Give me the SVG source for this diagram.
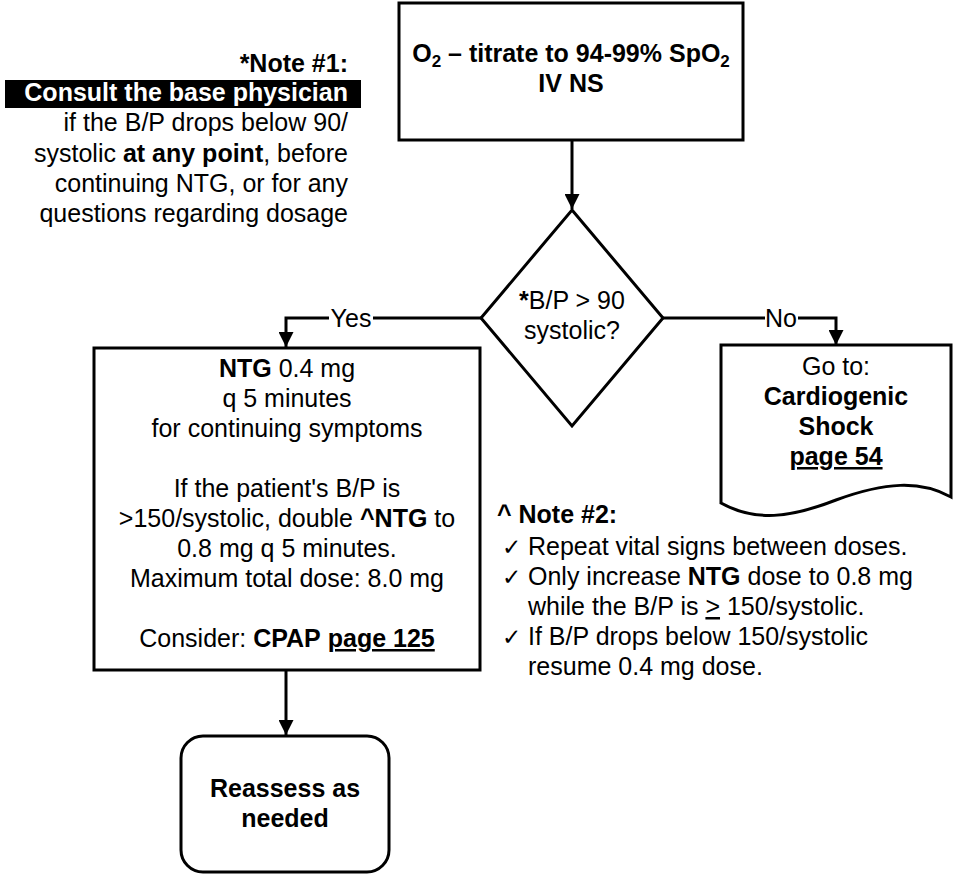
<svg xmlns="http://www.w3.org/2000/svg" width="955" height="875" viewBox="0 0 955 875">
  <style>
    text { font-family: "Liberation Sans", Arial, sans-serif; font-size: 25px; fill: #000; }
    .b { font-weight: bold; }
    .c { text-anchor: middle; }
    .r { text-anchor: end; }
    .u { text-decoration: underline; }
    .shape { fill: #fff; stroke: #000; stroke-width: 3; }
    .wire { fill: none; stroke: #000; stroke-width: 3; }
    .chk { font-family: "DejaVu Sans", sans-serif; font-size: 23px; }
    .sub { font-size: 17px; }
  </style>
  <defs>
    <marker id="arrow" viewBox="0 0 10 10" refX="10" refY="5" markerWidth="5" markerHeight="5" markerUnits="strokeWidth" orient="auto">
      <path d="M0,0 L10,5 L0,10 z" fill="#000"/>
    </marker>
  </defs>

  <rect width="955" height="875" fill="#fff"/>

  <!-- Note #1 -->
  <g id="note1">
    <text class="b r" x="348" y="72">*Note #1:</text>
    <rect x="5" y="80" width="356" height="28" fill="#000"/>
    <text class="b r" x="348" y="101" style="fill:#fff">Consult the base physician</text>
    <text class="r" x="348" y="131">if the B/P drops below 90/</text>
    <text class="r" x="348" y="162">systolic <tspan class="b">at any point</tspan>, before</text>
    <text class="r" x="348" y="192">continuing NTG, or for any</text>
    <text class="r" x="348" y="222">questions regarding dosage</text>
  </g>

  <!-- Connectors -->
  <g id="connectors">
    <line class="wire" x1="572" y1="140" x2="572" y2="209" marker-end="url(#arrow)"/>
    <polyline class="wire" points="481,318 286,318 286,347" marker-end="url(#arrow)"/>
    <polyline class="wire" points="663,318 836,318 836,345" marker-end="url(#arrow)"/>
    <line class="wire" x1="286" y1="670" x2="286" y2="735" marker-end="url(#arrow)"/>
    <rect x="329" y="304" width="44" height="28" fill="#fff"/>
    <text class="c" x="351" y="327">Yes</text>
    <rect x="765" y="304" width="33" height="28" fill="#fff"/>
    <text class="c" x="781" y="327">No</text>
  </g>

  <!-- Start: oxygen and IV -->
  <g id="start">
    <rect class="shape" x="399" y="3" width="344" height="137"/>
    <text class="b c" x="571" y="62">O<tspan class="sub" dy="5">2</tspan><tspan dy="-5"> – titrate to 94-99% SpO</tspan><tspan class="sub" dy="5">2</tspan></text>
    <text class="b c" x="571" y="92">IV NS</text>
  </g>

  <!-- Decision: systolic pressure -->
  <g id="decision">
    <polygon class="shape" points="572,210 663,318 572,426 481,318"/>
    <text class="c" x="572" y="309"><tspan class="b">*</tspan>B/P &gt; 90</text>
    <text class="c" x="572" y="339">systolic?</text>
  </g>

  <!-- NTG dosing -->
  <g id="ntg">
    <rect class="shape" x="94" y="348" width="386" height="322"/>
    <text class="c" x="287" y="377"><tspan class="b">NTG</tspan> 0.4 mg</text>
    <text class="c" x="287" y="407">q 5 minutes</text>
    <text class="c" x="287" y="437">for continuing symptoms</text>
    <text class="c" x="287" y="497">If the patient's B/P is</text>
    <text class="c" x="287" y="527">&gt;150/systolic, double <tspan class="b">^NTG</tspan> to</text>
    <text class="c" x="287" y="557">0.8 mg q 5 minutes.</text>
    <text class="c" x="287" y="587">Maximum total dose: 8.0 mg</text>
    <text class="c" x="287" y="647">Consider: <tspan class="b">CPAP</tspan> <tspan class="b u">page 125</tspan></text>
  </g>

  <!-- Off-page reference: cardiogenic shock -->
  <g id="shock">
    <path class="shape" d="M721,345 H951 V497 C920,480 885,482 836,500 C790,518 755,522 721,503 Z"/>
    <text class="c" x="836" y="375">Go to:</text>
    <text class="b c" x="836" y="405">Cardiogenic</text>
    <text class="b c" x="836" y="435">Shock</text>
    <text class="b c u" x="836" y="465">page 54</text>
  </g>

  <!-- Note #2 -->
  <g id="note2">
    <text class="b" x="497" y="523">^ Note #2:</text>
    <text x="502" y="555"><tspan class="chk">✓</tspan></text>
    <text x="528" y="555">Repeat vital signs between doses.</text>
    <text x="502" y="585"><tspan class="chk">✓</tspan></text>
    <text x="528" y="585">Only increase <tspan class="b">NTG</tspan> dose to 0.8 mg</text>
    <text x="528" y="615">while the B/P is <tspan class="u">&gt;</tspan> 150/systolic.</text>
    <text x="502" y="645"><tspan class="chk">✓</tspan></text>
    <text x="528" y="645">If B/P drops below 150/systolic</text>
    <text x="528" y="675">resume 0.4 mg dose.</text>
  </g>

  <!-- End: reassess -->
  <g id="reassess">
    <rect class="shape" x="181" y="736" width="208" height="136" rx="22"/>
    <text class="b c" x="285" y="797">Reassess as</text>
    <text class="b c" x="285" y="827">needed</text>
  </g>
</svg>
